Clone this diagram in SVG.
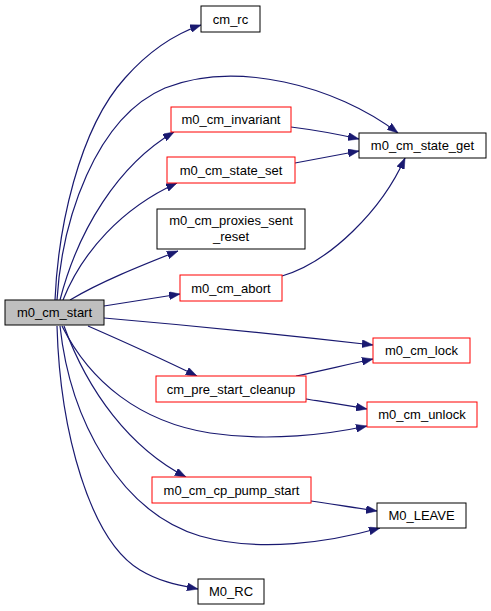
<svg xmlns="http://www.w3.org/2000/svg" width="491" height="611" viewBox="0 0 491 611">
<style>
.n rect{fill:#fff;stroke:#000;stroke-width:1}
.n.r rect{stroke:#ff0000}
.n.root rect{fill:#bfbfbf;stroke:#000}
.n text{font-family:"Liberation Sans",Arial,sans-serif;font-size:13px;text-anchor:middle;fill:#000}
.e path{fill:none;stroke:#191970;stroke-width:1.2;marker-end:url(#ah)}
</style>
<defs>
<marker id="ah" markerUnits="userSpaceOnUse" markerWidth="11" markerHeight="8" refX="11" refY="4" orient="auto">
<path d="M0,0 L11,4 L0,8 z" fill="#191970" stroke="#191970" stroke-width="0.5"/>
</marker>
</defs>
<rect width="491" height="611" fill="#fff"/>
<g id="edges" class="e">
<path d="M55,300 C58,230 78,130 125,78 C148,52 172,35 201,25"/>
<path d="M57,300 C62,220 95,118 165,88 C235,60 335,85 398,133"/>
<path d="M60,300 C78,230 118,165 174,132"/>
<path d="M63,300 C82,252 122,208 177,183"/>
<path d="M70,300 C100,282 140,266 178,251"/>
<path d="M104,306 C128,302 154,298 180,294"/>
<path d="M104,318 C185,325 295,336 373,345"/>
<path d="M88,326 C120,340 160,358 197,376"/>
<path d="M296,376 C320,371 345,365 373,359"/>
<path d="M306,399 C325,402 345,405 367,409"/>
<path d="M62,326 C90,382 140,422 210,433 C270,442 330,434 367,426"/>
<path d="M64,326 C88,392 130,448 186,477"/>
<path d="M311,501 C332,504 355,508 377,511"/>
<path d="M60,326 C70,420 120,512 200,536 C260,553 330,542 380,528"/>
<path d="M57,326 C60,432 90,540 140,570 C160,582 178,585 198,589"/>
<path d="M291,127 C315,130 337,134 359,139"/>
<path d="M295,163 C317,159 337,155 359,151"/>
<path d="M282,276 C330,262 382,210 405,158"/>
</g>
<g id="m0_cm_start" class="n root"><rect x="5" y="300" width="99" height="25"/><text x="54.5" y="317">m0_cm_start</text></g>
<g id="cm_rc" class="n"><rect x="201" y="6" width="59" height="26"/><text x="230.5" y="23.5">cm_rc</text></g>
<g id="m0_cm_state_get" class="n"><rect x="359" y="133" width="127" height="25"/><text x="422.5" y="150">m0_cm_state_get</text></g>
<g id="m0_cm_invariant" class="n r"><rect x="171" y="107" width="120" height="25"/><text x="231" y="124">m0_cm_invariant</text></g>
<g id="m0_cm_state_set" class="n r"><rect x="167" y="157" width="128" height="26"/><text x="231" y="174.5">m0_cm_state_set</text></g>
<g id="m0_cm_proxies_sent_reset" class="n"><rect x="157" y="209" width="148" height="40"/><text x="231" y="225">m0_cm_proxies_sent</text><text x="231" y="241">_reset</text></g>
<g id="m0_cm_abort" class="n r"><rect x="180" y="275" width="102" height="26"/><text x="231" y="292.5">m0_cm_abort</text></g>
<g id="m0_cm_lock" class="n r"><rect x="373" y="338" width="97" height="25"/><text x="421.5" y="355">m0_cm_lock</text></g>
<g id="cm_pre_start_cleanup" class="n r"><rect x="156" y="376" width="150" height="26"/><text x="231" y="393.5">cm_pre_start_cleanup</text></g>
<g id="m0_cm_unlock" class="n r"><rect x="367" y="402" width="110" height="25"/><text x="422" y="419">m0_cm_unlock</text></g>
<g id="m0_cm_cp_pump_start" class="n r"><rect x="152" y="477" width="159" height="26"/><text x="231.5" y="494.5">m0_cm_cp_pump_start</text></g>
<g id="M0_LEAVE" class="n"><rect x="377" y="503" width="89" height="25"/><text x="421.5" y="520">M0_LEAVE</text></g>
<g id="M0_RC" class="n"><rect x="198" y="579" width="66" height="25"/><text x="231" y="596">M0_RC</text></g>
</svg>
